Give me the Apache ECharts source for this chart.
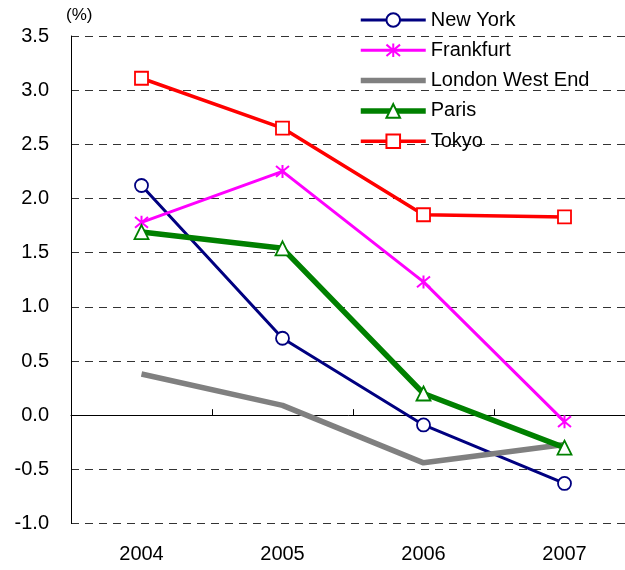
<!DOCTYPE html>
<html>
<head>
<meta charset="utf-8">
<script src="https://cdn.jsdelivr.net/npm/echarts@6/dist/echarts.min.js"></script>
<style>
  html, body { margin: 0; padding: 0; background: #fff; }
  #chart { width: 625px; height: 570px; }
</style>
</head>
<body>
<div id="chart"></div>
<script>
const years = ["2004", "2005", "2006", "2007"];
const newYork = [2.12, 0.71, -0.09, -0.63];
const frankfurt = [1.78, 2.25, 1.23, -0.06];
const londonWestEnd = [0.38, 0.09, -0.44, -0.27];
const paris = [1.69, 1.54, 0.2, -0.3];
const tokyo = [3.11, 2.65, 1.85, 1.83];

const font = "Liberation Sans, Arial, sans-serif";
// asterisk marker (stroked path)
const asterisk = "path://M0,0L10,10M10,0L0,10M5,-1L5,11";

function lineSeries(name, data, color, width, symbol, size) {
  let item = { color: "#fff", borderColor: color, borderWidth: 1.8 };
  if (symbol === asterisk) item = { color: "rgba(0,0,0,0)", borderColor: color, borderWidth: 2 };
  if (symbol === null) item = { color: "rgba(0,0,0,0)", borderColor: "rgba(0,0,0,0)", borderWidth: 0 };
  return {
    name: name,
    type: "line",
    data: data,
    xAxisIndex: 0,
    symbol: symbol || "circle",
    symbolSize: size,
    showSymbol: symbol !== null,
    showAllSymbol: true,
    lineStyle: { color: color, width: width },
    itemStyle: item,
    emphasis: { disabled: true },
    animation: false,
  };
}

const chart = echarts.init(document.getElementById("chart"));
chart.setOption({
  backgroundColor: "#fff",
  textStyle: { fontFamily: font },
  grid: { left: 71, width: 564, top: 36, bottom: 46.5, outerBoundsMode: "none", containLabel: false },
  legend: {
    orient: "vertical",
    left: 358,
    top: 10,
    padding: 0,
    itemWidth: 65,
    itemHeight: 17,
    itemGap: 10.3,
    lineStyle: { width: "inherit" },
    textStyle: { fontSize: 20, color: "#000", fontFamily: font },
    data: ["New York", "Frankfurt", "London West End", "Paris", "Tokyo"],
  },
  graphic: [
    {
      type: "text",
      left: 66,
      top: 7,
      style: { text: "(%)", fontSize: 17, fill: "#000", fontFamily: font },
    },
  ],
  xAxis: [
    {
      type: "category",
      data: years,
      axisLine: { show: false, onZero: false },
      axisTick: { show: false },
      axisLabel: { fontSize: 20, color: "#000", margin: 21, fontFamily: font },
      splitLine: { show: false },
    },
    {
      type: "category",
      data: years,
      position: "bottom",
      axisLine: { onZero: true, lineStyle: { color: "#000", width: 1 } },
      axisTick: { show: true, inside: true, length: 6, lineStyle: { color: "#000" } },
      axisLabel: { show: false },
      splitLine: { show: false },
    },
  ],
  yAxis: {
    type: "value",
    min: -1,
    max: 3.5,
    interval: 0.5,
    axisLine: { show: true, lineStyle: { color: "#000", width: 1 } },
    axisTick: { show: false },
    axisLabel: {
      fontSize: 20,
      color: "#000",
      margin: 22,
      fontFamily: font,
      formatter: (v) => v.toFixed(1),
    },
    splitLine: { show: true, lineStyle: { color: "#333", type: [8, 6], width: 1 } },
  },
  series: [
    lineSeries("New York", newYork, "#000080", 3, "circle", 13),
    lineSeries("Frankfurt", frankfurt, "#ff00ff", 3, asterisk, 13),
    lineSeries("London West End", londonWestEnd, "#808080", 5.5, null, 1),
    lineSeries("Paris", paris, "#008000", 5.5, "triangle", 14),
    lineSeries("Tokyo", tokyo, "#ff0000", 3.5, "rect", 13),
  ],
});
</script>
</body>
</html>
